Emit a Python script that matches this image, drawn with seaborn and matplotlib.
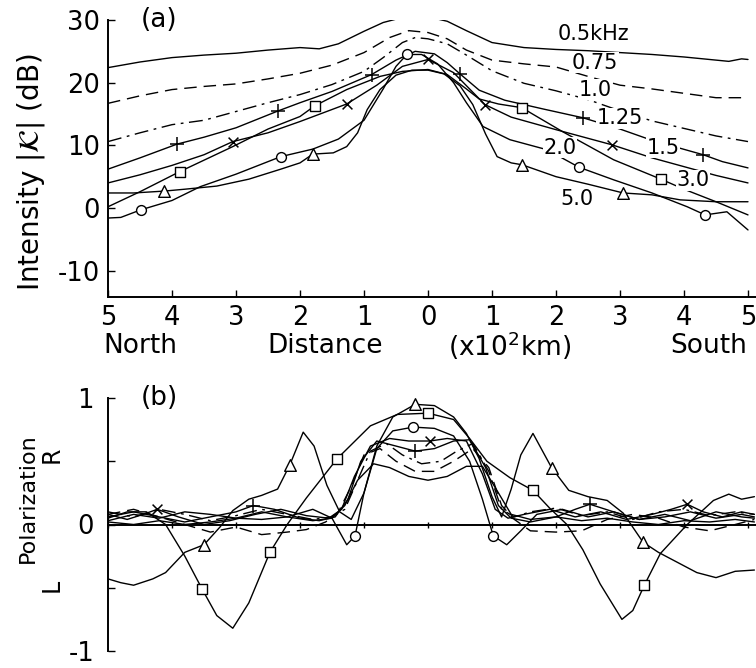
import matplotlib
matplotlib.use("Agg")
import matplotlib.pyplot as plt
import seaborn as sns
import numpy as np

# ---------------- panel (a): intensity (dB) vs distance (x100 km, North negative) -------------
a05_x = [-5, -4.5, -4, -3.5, -3, -2.5, -2, -1.7, -1.4, -1, -0.7, -0.4, -0.2, 0, 0.3, 0.6, 1, 1.5, 2, 2.5, 3, 3.5, 4, 4.5, 4.7, 4.9, 5.0]
a05_y = [22.4, 23.3, 24.0, 24.4, 24.7, 25.2, 25.6, 25.4, 26.2, 28.2, 29.6, 30.4, 30.6, 30.5, 29.8, 28.3, 26.4, 25.6, 25.3, 25.1, 24.8, 24.5, 24.1, 23.6, 23.4, 23.8, 23.7]

a075_x = [-5, -4.5, -4, -3.5, -3, -2.5, -2, -1.5, -1, -0.6, -0.3, 0, 0.3, 0.6, 1, 1.5, 2, 2.5, 3, 3.5, 4, 4.5, 5]
a075_y = [16.7, 17.9, 18.9, 19.4, 19.8, 20.6, 21.5, 22.8, 24.8, 27.2, 28.3, 28.0, 27.0, 25.2, 23.6, 23.0, 22.5, 21.0, 19.6, 19.0, 18.3, 17.6, 17.6]

a10_x = [-5, -4.5, -4, -3.5, -3, -2.5, -2, -1.5, -1, -0.7, -0.4, -0.2, 0, 0.3, 0.6, 1, 1.5, 2, 2.5, 3, 3.5, 4, 4.5, 5]
a10_y = [10.6, 12.0, 13.3, 14.0, 15.4, 16.8, 18.1, 19.7, 21.8, 24.0, 26.4, 27.2, 27.0, 26.2, 24.4, 21.9, 19.9, 18.7, 17.3, 15.5, 13.9, 12.7, 11.5, 10.6]

a125_x = [-5, -4.5, -3.92, -3.5, -3, -2.34, -2, -1.5, -0.88, -0.5, -0.2, 0.1, 0.3, 0.5, 0.8, 1.2, 1.8, 2.42, 3.0, 3.5, 4.3, 4.6, 5.0]
a125_y = [6.2, 8.0, 10.2, 11.3, 12.8, 15.5, 16.8, 18.6, 21.3, 23.6, 25.0, 24.6, 23.2, 21.4, 18.8, 17.2, 15.8, 14.4, 12.6, 10.8, 8.5, 7.4, 6.4]
a125_mx = [-3.92, -2.34, -0.88, 0.5, 2.42, 4.3]
a125_my = [10.2, 15.5, 21.3, 21.4, 14.4, 8.5]

a15_x = [-5, -4.5, -4, -3.5, -3.05, -2.5, -2, -1.27, -0.8, -0.4, 0, 0.4, 0.89, 1.3, 2.0, 2.87, 3.5, 4.0, 4.5, 5.0]
a15_y = [4.0, 5.3, 6.8, 8.5, 10.6, 12.0, 13.8, 16.6, 19.6, 22.6, 23.7, 21.6, 16.5, 14.5, 12.5, 10.1, 8.0, 6.6, 5.2, 4.0]
a15_mx = [-3.05, -1.27, 0.0, 0.89, 2.87]
a15_my = [10.6, 16.6, 23.7, 16.5, 10.1]

a20_x = [-5, -4.8, -4.49, -4, -3.56, -3, -2.3, -1.8, -1.4, -1.0, -0.7, -0.5, -0.33, -0.1, 0.15, 0.4, 0.6, 0.86, 1.28, 1.86, 2.36, 2.9, 3.5, 4.05, 4.33, 4.67, 5.0]
a20_y = [-1.6, -1.5, -0.3, 1.2, 3.4, 5.4, 8.2, 9.4, 11.0, 14.0, 19.0, 22.6, 24.5, 24.5, 23.0, 20.0, 16.8, 13.0, 10.9, 9.3, 6.5, 4.5, 2.4, 0.2, -1.1, -0.6, -3.5]
a20_mx = [-4.49, -2.3, -0.33, 2.36, 4.33]
a20_my = [-0.3, 8.2, 24.5, 6.5, -1.1]

a30_x = [-5, -4.5, -3.88, -3.05, -2.5, -2.0, -1.77, -1.27, -0.75, -0.4, 0.0, 0.3, 0.6, 0.8, 1.1, 1.47, 1.6, 2.1, 2.9, 3.64, 4.0, 4.5, 5.0]
a30_y = [0.2, 2.6, 5.8, 9.8, 12.6, 14.6, 16.3, 18.9, 21.0, 21.8, 22.1, 21.3, 19.0, 17.4, 16.6, 16.0, 15.2, 12.2, 7.7, 4.6, 3.0, 1.0, -1.1]
a30_mx = [-3.88, -1.77, 1.47, 3.64]
a30_my = [5.8, 16.3, 16.0, 4.6]

a50_x = [-5, -4.6, -4.12, -3.8, -3.3, -2.8, -2.3, -2.0, -1.8, -1.48, -1.27, -1.1, -0.95, -0.75, -0.5, -0.25, 0, 0.25, 0.5, 0.7, 0.9, 1.08, 1.3, 1.47, 2.0, 2.5, 3.05, 3.5, 3.94, 4.5, 5.0]
a50_y = [2.4, 2.4, 2.7, 3.0, 3.5, 4.6, 6.2, 7.2, 8.6, 8.8, 9.8, 12.0, 15.7, 18.9, 21.2, 22.0, 22.0, 21.4, 19.5, 16.5, 11.8, 8.2, 7.2, 6.9, 5.0, 3.8, 2.4, 2.1, 1.3, 1.0, 1.0]
a50_mx = [-4.12, -1.8, 1.47, 3.05]
a50_my = [2.7, 8.6, 6.9, 2.4]

a_labels = ["0.5kHz", "0.75", "1.0", "1.25", "1.5", "2.0", "3.0", "5.0"]
a_label_x = [2.58, 2.61, 2.61, 3.0, 3.67, 2.06, 4.14, 2.33]
a_label_y = [27.7, 23.2, 18.9, 14.3, 9.6, 9.6, 4.4, 1.5]

a_xticks = [-5, -4, -3, -2, -1, 0, 1, 2, 3, 4, 5]
a_xticklabels = ["5", "4", "3", "2", "1", "0", "1", "2", "3", "4", "5"]
a_yticks = [-10, 0, 10, 20, 30]
a_yticklabels = ["-10", "0", "10", "20", "30"]

# ---------------- panel (b): polarization vs distance -------------
b05_x = [-5, -4.6, -4.2, -3.8, -3.4, -3.0, -2.6, -2.2, -1.8, -1.5, -1.3, -1.1, -0.85, -0.6, -0.3, 0.0, 0.3, 0.6, 0.85, 1.1, 1.3, 1.6, 2.0, 2.4, 2.8, 3.2, 3.6, 4.0, 4.4, 4.8, 5.1]
b05_y = [0.02, 0.0, 0.03, 0.0, 0.02, 0.05, 0.04, 0.06, 0.03, 0.05, 0.15, 0.35, 0.48, 0.45, 0.38, 0.35, 0.38, 0.46, 0.46, 0.25, 0.08, 0.04, 0.06, 0.03, 0.05, 0.02, 0.0, 0.03, 0.02, 0.04, 0.02]

b075_x = [-5, -4.6, -4.2, -3.8, -3.4, -3.0, -2.6, -2.2, -1.9, -1.6, -1.4, -1.2, -1.0, -0.75, -0.5, -0.2, 0.1, 0.4, 0.7, 0.95, 1.15, 1.35, 1.6, 2.0, 2.4, 2.8, 3.2, 3.6, 4.0, 4.4, 4.8, 5.1]
b075_y = [0.08, 0.12, 0.06, 0.0, -0.06, -0.02, -0.08, -0.06, -0.04, 0.02, 0.1, 0.3, 0.55, 0.6, 0.5, 0.42, 0.42, 0.5, 0.6, 0.45, 0.15, 0.04, -0.05, -0.06, -0.05, 0.04, 0.08, 0.05, -0.02, -0.05, 0.0, 0.04]

b10_x = [-5, -4.6, -4.2, -3.8, -3.4, -3.0, -2.6, -2.2, -1.8, -1.5, -1.3, -1.1, -0.9, -0.65, -0.4, -0.1, 0.2, 0.45, 0.7, 0.95, 1.15, 1.35, 1.6, 2.0, 2.4, 2.8, 3.2, 3.6, 4.0, 4.4, 4.8, 5.1]
b10_y = [0.1, 0.06, 0.12, 0.08, 0.03, 0.07, 0.12, 0.08, 0.04, 0.06, 0.12, 0.35, 0.58, 0.64, 0.55, 0.48, 0.5, 0.58, 0.64, 0.42, 0.12, 0.06, 0.1, 0.13, 0.07, 0.1, 0.04, 0.1, 0.12, 0.07, 0.1, 0.08]

b125_x = [-5, -4.6, -4.2, -3.8, -3.4, -3.0, -2.73, -2.4, -2.0, -1.7, -1.45, -1.25, -1.05, -0.8, -0.5, -0.2, 0.1, 0.4, 0.65, 0.9, 1.1, 1.3, 1.6, 2.0, 2.3, 2.53, 2.9, 3.3, 3.7, 4.1, 4.5, 4.9, 5.1]
b125_y = [0.06, 0.1, 0.06, 0.02, 0.06, 0.1, 0.15, 0.12, 0.05, 0.03, 0.06, 0.2, 0.5, 0.66, 0.62, 0.58, 0.6, 0.66, 0.67, 0.45, 0.15, 0.05, 0.02, 0.06, 0.12, 0.16, 0.1, 0.04, 0.06, 0.1, 0.05, 0.08, 0.06]
b125_mx = [-2.73, -0.2, 2.53]
b125_my = [0.15, 0.58, 0.16]

b15_x = [-5, -4.7, -4.45, -4.23, -3.9, -3.5, -3.1, -2.7, -2.3, -1.9, -1.55, -1.35, -1.15, -0.9, -0.6, -0.3, 0.03, 0.3, 0.6, 0.85, 1.05, 1.25, 1.5, 1.9, 2.3, 2.7, 3.1, 3.5, 3.8, 4.05, 4.3, 4.6, 4.9, 5.1]
b15_y = [0.08, 0.04, 0.08, 0.12, 0.06, 0.0, 0.03, 0.08, 0.12, 0.07, 0.05, 0.12, 0.38, 0.62, 0.68, 0.66, 0.66, 0.68, 0.66, 0.4, 0.12, 0.05, 0.08, 0.12, 0.06, 0.1, 0.04, 0.08, 0.12, 0.16, 0.1, 0.06, 0.1, 0.08]
b15_mx = [-4.23, 0.03, 4.05]
b15_my = [0.12, 0.66, 0.16]

b20_x = [-5, -4.6, -4.2, -3.8, -3.4, -3.0, -2.6, -2.2, -1.8, -1.5, -1.27, -1.14, -1.0, -0.8, -0.55, -0.23, 0.1, 0.4, 0.65, 0.85, 1.02, 1.23, 1.45, 1.7, 2.1, 2.5, 2.9, 3.3, 3.7, 4.1, 4.5, 4.9, 5.1]
b20_y = [0.03, 0.08, 0.05, 0.1, 0.08, 0.05, 0.1, 0.06, 0.12, 0.05, -0.16, -0.09, 0.25, 0.6, 0.74, 0.77, 0.76, 0.7, 0.5, 0.2, -0.09, -0.16, -0.05, 0.08, 0.12, 0.06, 0.1, 0.04, 0.08, 0.03, 0.1, 0.06, 0.05]
b20_mx = [-1.14, -0.23, 1.02]
b20_my = [-0.09, 0.77, -0.09]

b30_x = [-5, -4.7, -4.4, -4.1, -3.8, -3.53, -3.3, -3.05, -2.8, -2.47, -2.2, -1.9, -1.42, -1.22, -0.9, -0.48, 0.0, 0.4, 0.65, 0.92, 1.28, 1.64, 1.9, 2.17, 2.42, 2.69, 3.03, 3.2, 3.38, 3.63, 4.05, 4.46, 4.7, 4.9, 5.1]
b30_y = [0.05, 0.1, 0.1, 0.0, -0.25, -0.51, -0.72, -0.82, -0.62, -0.22, 0.0, 0.21, 0.52, 0.62, 0.78, 0.87, 0.88, 0.83, 0.68, 0.5, 0.37, 0.27, 0.13, 0.0, -0.2, -0.47, -0.75, -0.68, -0.48, -0.23, 0.0, 0.19, 0.24, 0.2, 0.22]
b30_mx = [-3.53, -2.47, -1.42, 0.0, 1.64, 3.38]
b30_my = [-0.51, -0.22, 0.52, 0.88, 0.27, -0.48]

b50_x = [-5, -4.8, -4.6, -4.3, -4.1, -3.8, -3.5, -3.25, -3.05, -2.8, -2.6, -2.35, -2.16, -1.95, -1.78, -1.58, -1.38, -1.2, -1.0, -0.8, -0.55, -0.2, 0.1, 0.4, 0.6, 0.8, 1.0, 1.15, 1.3, 1.45, 1.64, 1.93, 2.2, 2.5, 2.8, 3.05, 3.36, 3.6, 3.9, 4.2, 4.5, 4.8, 5.1]
b50_y = [-0.43, -0.46, -0.48, -0.43, -0.38, -0.22, -0.16, -0.02, 0.11, 0.2, 0.23, 0.28, 0.47, 0.73, 0.62, 0.31, 0.1, 0.04, 0.25, 0.62, 0.85, 0.95, 0.94, 0.85, 0.72, 0.52, 0.22, 0.06, 0.28, 0.55, 0.72, 0.45, 0.27, 0.22, 0.19, 0.09, -0.14, -0.22, -0.3, -0.38, -0.42, -0.37, -0.36]
b50_mx = [-3.5, -2.16, -0.2, 1.93, 3.36]
b50_my = [-0.16, 0.47, 0.95, 0.45, -0.14]

b_yticks = [-1, -0.5, 0, 0.5, 1]
b_yticklabels = ["-1", "", "0", "", "1"]

# ---------------- style ----------------
sns.set_theme(style="ticks")
plt.rcParams['font.family'] = ['DejaVu Sans']
plt.rcParams['mathtext.fontset'] = 'dejavusans'
for k in ("text.color", "axes.labelcolor", "xtick.color", "ytick.color", "axes.edgecolor"):
    plt.rcParams[k] = "black"

W, H = 756, 668
fig = plt.figure(figsize=(W / 100, H / 100), dpi=100, facecolor="white")
ax1 = fig.add_axes([108 / W, 1 - 297 / H, 648 / W, 277 / H])
ax2 = fig.add_axes([108 / W, 1 - 651 / H, 648 / W, 253 / H])

DASH = (0, (9, 5))
DASHDOT = (0, (10, 4, 2, 4))
LW = 1.0
TICK_FS = 18.5
LAB_FS = 19


def line(ax, x, y, ls="-"):
    sns.lineplot(x=x, y=y, ax=ax, color="black", lw=LW, linestyle=ls,
                 sort=False, estimator=None, legend=False)


def marks(ax, x, y, m, s):
    if m in ("+", "x"):
        sns.scatterplot(x=x, y=y, ax=ax, marker=m, s=s, color="black",
                        linewidth=1.1, zorder=4, legend=False)
    else:
        sns.scatterplot(x=x, y=y, ax=ax, marker=m, s=s, facecolor="white",
                        edgecolor="black", linewidth=1.0, zorder=4, legend=False)


# panel (a)
line(ax1, a05_x, a05_y)
line(ax1, a075_x, a075_y, DASH)
line(ax1, a10_x, a10_y, DASHDOT)
line(ax1, a125_x, a125_y)
line(ax1, a15_x, a15_y)
line(ax1, a20_x, a20_y)
line(ax1, a30_x, a30_y)
line(ax1, a50_x, a50_y)
marks(ax1, a125_mx, a125_my, "+", 90)
marks(ax1, a15_mx, a15_my, "x", 50)
marks(ax1, a20_mx, a20_my, "o", 50)
marks(ax1, a30_mx, a30_my, "s", 55)
marks(ax1, a50_mx, a50_my, "^", 70)

for t, tx, ty in zip(a_labels, a_label_x, a_label_y):
    ax1.text(tx, ty, t, fontsize=15, ha="center", va="center", zorder=5,
             bbox=dict(facecolor="white", edgecolor="none", pad=0.5))

ax1.set_xlim(-5, 5.125)
ax1.set_ylim(-14.2, 30)
ax1.set_xticks(a_xticks)
ax1.set_xticklabels(a_xticklabels)
ax1.set_yticks(a_yticks)
ax1.set_yticklabels(a_yticklabels)
ax1.tick_params(axis="both", direction="in", length=5, width=1, labelsize=TICK_FS)
ax1.tick_params(axis="x", pad=6)
ax1.tick_params(axis="y", pad=6)
for sp in ("top", "right"):
    ax1.spines[sp].set_visible(False)
for sp in ("left", "bottom"):
    ax1.spines[sp].set_linewidth(1.4)
ax1.set_xlabel("")
ax1.set_ylabel("")
ax1.text(0.05, 1.0, "(a)", transform=ax1.transAxes, fontsize=LAB_FS, ha="left", va="center")

# panel (b)
line(ax2, b05_x, b05_y)
line(ax2, b075_x, b075_y, DASH)
line(ax2, b10_x, b10_y, DASHDOT)
line(ax2, b125_x, b125_y)
line(ax2, b15_x, b15_y)
line(ax2, b20_x, b20_y)
line(ax2, b30_x, b30_y)
line(ax2, b50_x, b50_y)
marks(ax2, b125_mx, b125_my, "+", 90)
marks(ax2, b15_mx, b15_my, "x", 50)
marks(ax2, b20_mx, b20_my, "o", 50)
marks(ax2, b30_mx, b30_my, "s", 55)
marks(ax2, b50_mx, b50_my, "^", 70)

ax2.set_xlim(-5, 5.125)
ax2.set_ylim(-1, 1)
ax2.set_yticks(b_yticks)
ax2.set_yticklabels(b_yticklabels)
ax2.set_xticks(a_xticks)
ax2.set_xticklabels([])
ax2.spines["bottom"].set_position(("data", 0))
ax2.tick_params(axis="y", direction="in", length=5, width=1, labelsize=TICK_FS, pad=10)
ax2.tick_params(axis="x", direction="inout", length=5, width=1)
for sp in ("top", "right"):
    ax2.spines[sp].set_visible(False)
for sp in ("left", "bottom"):
    ax2.spines[sp].set_linewidth(1.4)
ax2.set_xlabel("")
ax2.set_ylabel("")
ax2.text(0.05, 1.0, "(b)", transform=ax2.transAxes, fontsize=LAB_FS, ha="left", va="center")

# axis titles placed as figure text
fig.text(31 / W, 1 - 172 / H, r"Intensity $|\mathcal{K}|$ (dB)", rotation=90,
         fontsize=20, ha="center", va="center")
fig.text(28 / W, 1 - 498 / H, "Polarization", rotation=90, fontsize=16, ha="center", va="center")
fig.text(52 / W, 1 - 455 / H, "R", rotation=90, fontsize=17, ha="center", va="center")
fig.text(52 / W, 1 - 585 / H, "L", rotation=90, fontsize=17, ha="center", va="center")
for t, px in zip(["North", "Distance", r"(x10$^2$km)", "South"], [140, 325, 510, 709]):
    fig.text(px / W, 1 - 346 / H, t, fontsize=LAB_FS, ha="center", va="center")

fig.savefig("out.png", dpi=100, facecolor="white")
